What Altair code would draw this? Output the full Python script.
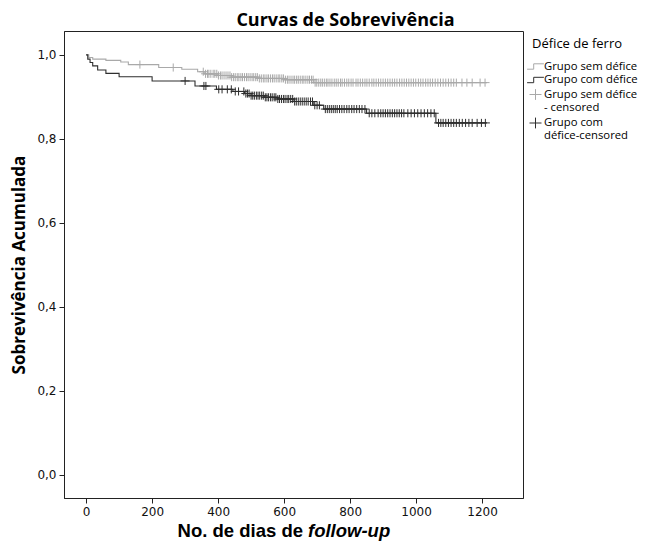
import altair as alt
import numpy as np
import pandas as pd

# ---- data ----
grupos = ["Grupo sem défice", "Grupo com défice",
          "Grupo sem défice|- censored", "Grupo com|défice-censored"]

sem_t = [0, 8, 20, 60, 105, 128, 220, 290, 338, 358, 400, 440, 520, 600, 690, 1215]
sem_s = [1.0, 0.994, 0.99, 0.987, 0.983, 0.977, 0.970, 0.966, 0.960, 0.955,
         0.951, 0.947, 0.944, 0.941, 0.934, 0.934]

com_t = [0, 5, 12, 20, 35, 60, 100, 200, 330, 395, 445, 480, 500, 540, 580,
         630, 690, 720, 850, 1060, 1215]
com_s = [1.0, 0.99, 0.982, 0.974, 0.964, 0.956, 0.948, 0.938, 0.926, 0.918,
         0.913, 0.908, 0.903, 0.899, 0.895, 0.889, 0.880, 0.871, 0.861, 0.838, 0.838]

sem_cens = [163, 264,
            355, 362, 368, 372, 378, 385, 390, 396, 401, 407, 412, 418, 424, 430,
            436, 441, 447, 452, 458, 463, 469, 474, 480, 486, 491, 497, 503, 508,
            514, 519, 525, 531, 537, 542, 548, 553, 559, 565, 570, 576, 582, 587,
            593, 598, 604, 610, 615, 621, 627, 632, 638, 643, 649, 655, 660, 666,
            672, 677, 683, 688,
            694, 699, 705, 711, 716, 722, 728, 733, 739, 745, 752, 758, 764, 771,
            776, 783, 790, 796, 803, 809, 818, 824, 831, 838, 845, 851, 858, 866,
            872, 879, 886, 893, 900, 907, 914, 921, 928, 935, 942, 950, 957, 964,
            971, 978, 985, 992, 999, 1007, 1014, 1021, 1029, 1036, 1043, 1050,
            1058, 1066, 1074, 1082, 1090, 1098, 1106, 1114, 1122, 1139, 1154,
            1170, 1194, 1209]

com_cens = [300, 357, 363, 402, 412, 428, 440, 452, 462,
            478, 484, 489, 494, 500, 505, 510, 516, 521, 526, 532, 537, 543, 548,
            553, 559, 564, 570, 575, 581, 586, 592, 598, 603, 609, 614, 620, 626,
            632, 637, 643, 649, 655, 661, 667, 673, 680, 686, 693, 700, 707,
            725, 731, 737, 743, 749, 755, 761, 768, 775, 782, 790, 797, 805, 812,
            820, 828, 836, 845, 858, 866, 875, 885, 893, 900, 907, 914, 921, 928,
            935, 942, 949, 956, 963, 975, 985, 995, 1005, 1015, 1025, 1035, 1045,
            1055, 1068, 1075, 1082, 1090, 1098, 1106, 1114, 1122, 1131, 1140,
            1150, 1160, 1170, 1185, 1198, 1210]

x_ticks = [0, 200, 400, 600, 800, 1000, 1200]
y_ticks = [0.0, 0.2, 0.4, 0.6, 0.8, 1.0]

light = "#a9a9a9"
dark = "#2e2e2e"
step_path = "M-1.4,0.45H-0.3V-0.45H1.4"
plus_path = "M0,-0.9V0.9M-1,0H1"


def surv_at(ts, ss, t):
    idx = np.searchsorted(np.array(ts), t, side="right") - 1
    return ss[idx]


lines = pd.concat([
    pd.DataFrame({"t": sem_t, "s": sem_s, "g": grupos[0]}),
    pd.DataFrame({"t": com_t, "s": com_s, "g": grupos[1]}),
])
cens = pd.concat([
    pd.DataFrame({"t": sem_cens, "s": [surv_at(sem_t, sem_s, c) for c in sem_cens], "g": grupos[2]}),
    pd.DataFrame({"t": com_cens, "s": [surv_at(com_t, com_s, c) for c in com_cens], "g": grupos[3]}),
])

xscale = alt.Scale(domain=[-67, 1324], nice=False, zero=False)
yscale = alt.Scale(domain=[-0.0557, 1.057], nice=False, zero=False)
color = alt.Color("g:N", scale=alt.Scale(domain=grupos, range=[light, dark, light, dark]),
                  legend=alt.Legend(title="Défice de ferro", orient="none",
                                    legendX=468, legendY=7,
                                    labelExpr="split(datum.label, '|')"))
shape = alt.Shape("g:N", scale=alt.Scale(domain=grupos,
                                         range=[step_path, step_path, plus_path, plus_path]))

xaxis = alt.Axis(values=x_ticks, title=None, grid=False, tickSize=5, format="d",
                 labelFont="DejaVu Sans", labelFontSize=12, labelColor="#111",
                 labelPadding=3, tickColor="#222", domainColor="#222")
yaxis = alt.Axis(values=y_ticks, title="Sobrevivência Acumulada", grid=False, tickSize=5,
                 labelExpr="replace(format(datum.value, '.1f'), '.', ',')",
                 labelFont="DejaVu Sans", labelFontSize=12, labelColor="#111",
                 labelPadding=3, tickColor="#222", domainColor="#222",
                 titleFont="Open Sans", titleFontSize=17, titleFontWeight="bold",
                 titleColor="#000", titlePadding=8)

line_layer = alt.Chart(lines).mark_line(interpolate="step-after", strokeWidth=1.1).encode(
    x=alt.X("t:Q", scale=xscale, axis=xaxis),
    y=alt.Y("s:Q", scale=yscale, axis=yaxis),
    color=color,
)

cens_layer = alt.Chart(cens).mark_point(filled=False, size=81, strokeWidth=1, opacity=1).encode(
    x=alt.X("t:Q", scale=xscale),
    y=alt.Y("s:Q", scale=yscale),
    color=color,
    shape=shape,
)

lbl = pd.DataFrame({"a": [0]})
xt1 = alt.Chart(lbl).mark_text(align="right", baseline="alphabetic", font="Liberation Sans",
                               fontSize=18.5, fontWeight="bold", color="#000").encode(
    x=alt.value(239), y=alt.value(506), text=alt.value("No. de dias de"))
xt2 = alt.Chart(lbl).mark_text(align="left", baseline="alphabetic", font="Liberation Sans",
                               fontSize=18.5, fontWeight="bold", fontStyle="italic", color="#000").encode(
    x=alt.value(244), y=alt.value(506), text=alt.value("follow-up"))

chart = alt.layer(line_layer, cens_layer, xt1, xt2).properties(
    width=459, height=467,
    title=alt.Title("Curvas de Sobrevivência", font="Open Sans", fontSize=18,
                    fontWeight="bold", color="#000", anchor="middle", dx=52, offset=1),
    padding={"left": 56, "top": 23, "right": 117, "bottom": 43},
    autosize=alt.AutoSizeParams(type="none"),
).configure_view(
    stroke="#222", strokeWidth=1
).configure_legend(
    titleFont="Open Sans", titleFontSize=13, titleFontWeight="normal", titleColor="#000",
    titlePadding=9, labelFont="Open Sans", labelFontSize=11.3, labelColor="#000",
    labelLimit=300, labelOffset=2, symbolSize=144, symbolStrokeWidth=1,
    symbolOffset=-3, rowPadding=1.5, padding=0
)

chart.save("out.html", embed_options={"renderer": "svg", "actions": False})
